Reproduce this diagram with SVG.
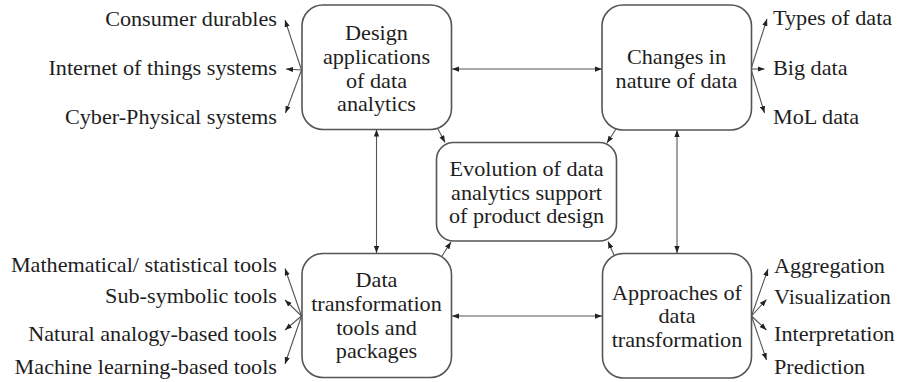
<svg xmlns="http://www.w3.org/2000/svg" width="904" height="382" viewBox="0 0 904 382" font-family="Liberation Serif, DejaVu Serif, serif">
  <defs>
    <marker id="arrow" viewBox="0 0 8 6" refX="8" refY="3" markerWidth="7" markerHeight="5.5" markerUnits="userSpaceOnUse" orient="auto-start-reverse">
      <path d="M0,0 L8,3 L0,6 Z" fill="#222"/>
    </marker>
    <style>
      .box { fill: #fff; stroke: #555; stroke-width: 1.6; }
      .t { font-size: 20px; fill: #1e1e1e; }
      .c { text-anchor: middle; }
      .r { text-anchor: end; }
      .l { text-anchor: start; }
      .link { fill: none; stroke: #555; stroke-width: 1.1; marker-end: url(#arrow); }
      .both { marker-start: url(#arrow); }
    </style>
  </defs>
  <rect width="904" height="382" fill="#fff"/>

  <!-- connectors -->
  <g id="connectors">
    <!-- between the four outer boxes -->
    <line class="link both" x1="452" y1="69" x2="602" y2="69"/>
    <line class="link both" x1="452" y1="316" x2="602" y2="316"/>
    <line class="link both" x1="376.5" y1="129.5" x2="376.5" y2="253"/>
    <line class="link both" x1="677" y1="130" x2="677" y2="253"/>
    <!-- into the central box -->
    <line class="link" x1="437" y1="127" x2="445" y2="142.5"/>
    <line class="link" x1="616" y1="129" x2="607" y2="143"/>
    <line class="link" x1="442" y1="256" x2="451" y2="242"/>
    <line class="link" x1="614" y1="255" x2="608" y2="241.5"/>
    <!-- design applications fan -->
    <line class="link" x1="301.5" y1="70" x2="285" y2="20"/>
    <line class="link" x1="301.5" y1="70" x2="286" y2="69"/>
    <line class="link" x1="301.5" y1="70" x2="285.5" y2="113"/>
    <!-- nature of data fan -->
    <line class="link" x1="751" y1="69" x2="767" y2="19"/>
    <line class="link" x1="751" y1="69" x2="764.5" y2="69"/>
    <line class="link" x1="751" y1="69" x2="764.5" y2="113"/>
    <!-- tools fan -->
    <line class="link" x1="301.5" y1="316" x2="285" y2="268.5"/>
    <line class="link" x1="301.5" y1="316" x2="285" y2="300"/>
    <line class="link" x1="301.5" y1="316" x2="285" y2="330"/>
    <line class="link" x1="301.5" y1="316" x2="285" y2="364"/>
    <!-- transformation approaches fan -->
    <line class="link" x1="751.5" y1="316" x2="768" y2="269"/>
    <line class="link" x1="751.5" y1="316" x2="766.5" y2="299.5"/>
    <line class="link" x1="751.5" y1="316" x2="766.5" y2="330"/>
    <line class="link" x1="751.5" y1="316" x2="766.5" y2="360"/>
  </g>

  <g id="design-applications">
    <rect class="box" x="302" y="5" width="149.5" height="124.5" rx="21"/>
    <text class="t c" transform="translate(376.5 40) scale(1.11 1)">Design</text>
    <text class="t c" transform="translate(376.5 64) scale(1.11 1)">applications</text>
    <text class="t c" transform="translate(376.5 87.5) scale(1.11 1)">of data</text>
    <text class="t c" transform="translate(376.5 111) scale(1.11 1)">analytics</text>
    <text class="t r" transform="translate(277 25.5) scale(1.11 1)">Consumer durables</text>
    <text class="t r" transform="translate(277 75) scale(1.11 1)">Internet of things systems</text>
    <text class="t r" transform="translate(277 124) scale(1.11 1)">Cyber-Physical systems</text>
  </g>

  <g id="nature-of-data">
    <rect class="box" x="602" y="5" width="149.5" height="125" rx="21"/>
    <text class="t c" transform="translate(676.5 64) scale(1.11 1)">Changes in</text>
    <text class="t c" transform="translate(676.5 87.5) scale(1.11 1)">nature of data</text>
    <text class="t l" transform="translate(773 25) scale(1.11 1)">Types of data</text>
    <text class="t l" transform="translate(773 75) scale(1.11 1)">Big data</text>
    <text class="t l" transform="translate(773 124) scale(1.11 1)">MoL data</text>
  </g>

  <g id="evolution">
    <rect class="box" x="436.5" y="142.5" width="180" height="98.5" rx="17"/>
    <text class="t c" transform="translate(526.5 176) scale(1.11 1)">Evolution of data</text>
    <text class="t c" transform="translate(526.5 199.5) scale(1.11 1)">analytics support</text>
    <text class="t c" transform="translate(526.5 223) scale(1.11 1)">of product design</text>
  </g>

  <g id="transformation-tools">
    <rect class="box" x="302" y="253.5" width="149.5" height="124" rx="21"/>
    <text class="t c" transform="translate(376.5 287) scale(1.11 1)">Data</text>
    <text class="t c" transform="translate(376.5 311) scale(1.11 1)">transformation</text>
    <text class="t c" transform="translate(376.5 334.5) scale(1.11 1)">tools and</text>
    <text class="t c" transform="translate(376.5 358) scale(1.11 1)">packages</text>
    <text class="t r" transform="translate(277 272) scale(1.11 1)">Mathematical/ statistical tools</text>
    <text class="t r" transform="translate(277 303) scale(1.11 1)">Sub-symbolic tools</text>
    <text class="t r" transform="translate(277 340.5) scale(1.11 1)">Natural analogy-based tools</text>
    <text class="t r" transform="translate(277 374) scale(1.11 1)">Machine learning-based tools</text>
  </g>

  <g id="transformation-approaches">
    <rect class="box" x="602.5" y="253.5" width="149" height="124.5" rx="21"/>
    <text class="t c" transform="translate(677 300) scale(1.11 1)">Approaches of</text>
    <text class="t c" transform="translate(677 323) scale(1.11 1)">data</text>
    <text class="t c" transform="translate(677 346.5) scale(1.11 1)">transformation</text>
    <text class="t l" transform="translate(774 273) scale(1.11 1)">Aggregation</text>
    <text class="t l" transform="translate(774 303.5) scale(1.11 1)">Visualization</text>
    <text class="t l" transform="translate(774 341) scale(1.11 1)">Interpretation</text>
    <text class="t l" transform="translate(774 373.5) scale(1.11 1)">Prediction</text>
  </g>
</svg>
